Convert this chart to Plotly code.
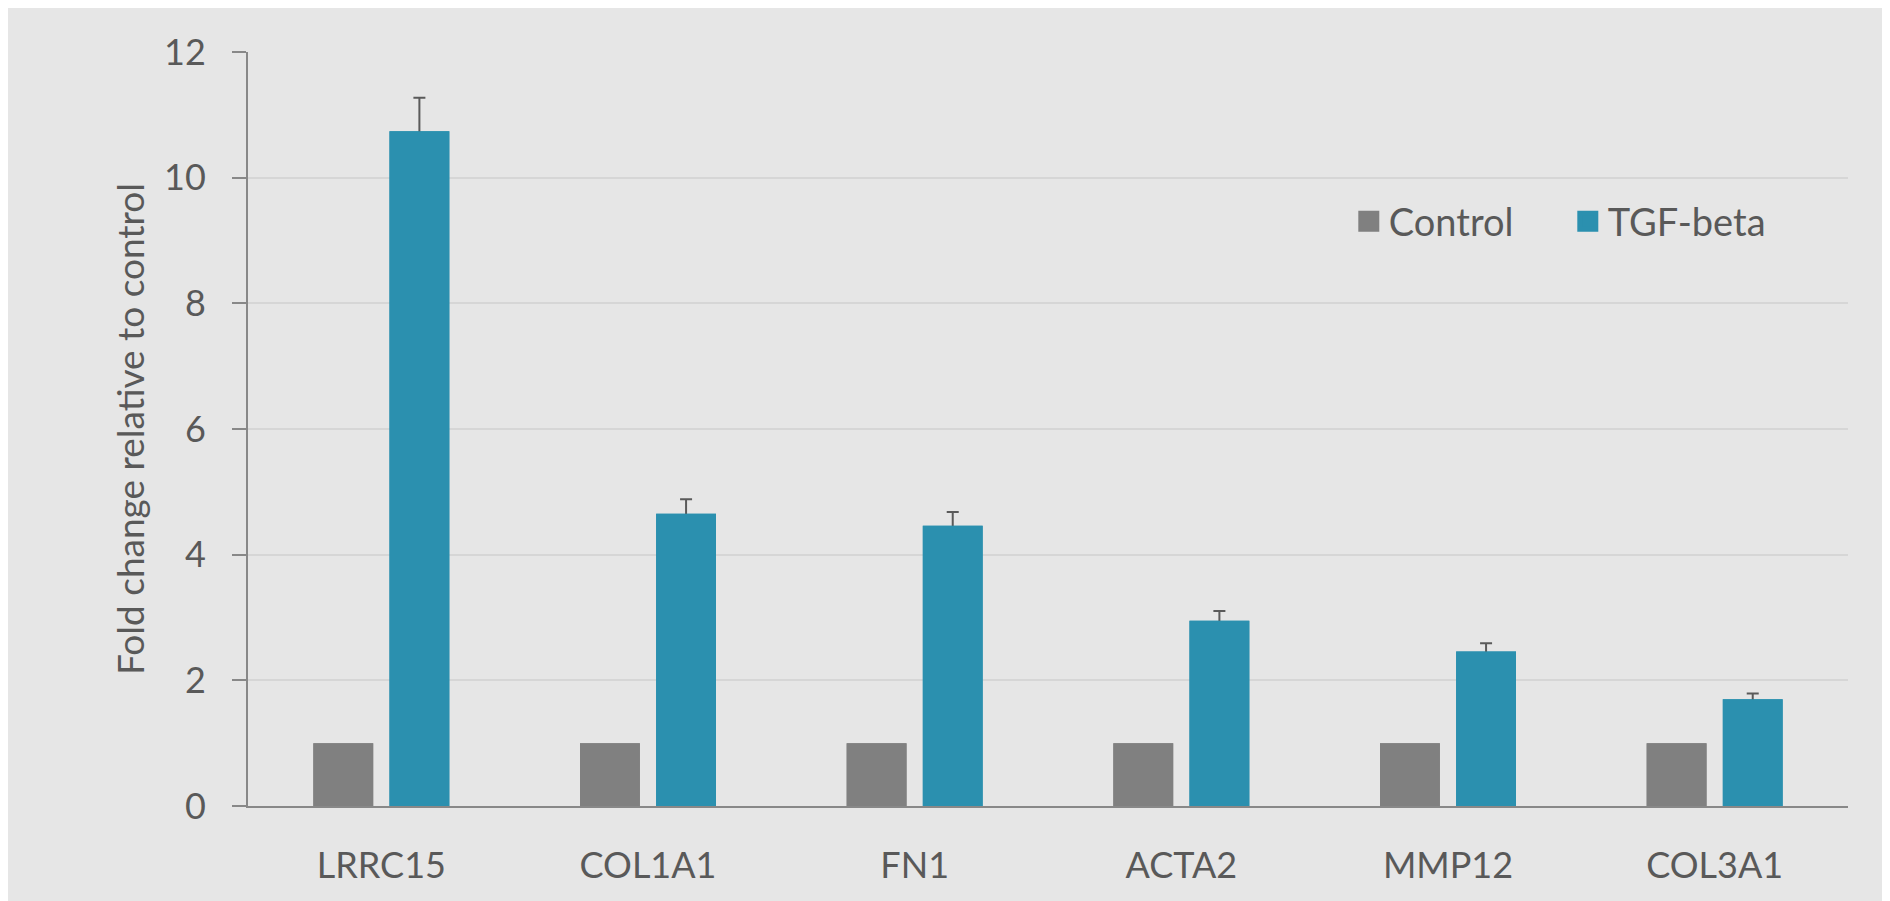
import plotly.graph_objects as go

genes = ["LRRC15", "COL1A1", "FN1", "ACTA2", "MMP12", "COL3A1"]
control = [1.0, 1.0, 1.0, 1.0, 1.0, 1.0]
tgf_beta = [10.74, 4.65, 4.46, 2.95, 2.46, 1.70]
tgf_err = [0.53, 0.23, 0.22, 0.155, 0.13, 0.09]
y_ticks = [0, 2, 4, 6, 8, 10, 12]

TEXT = "#595959"
BG = "#E6E6E6"
CTRL_COLOR = "#808080"
TGF_COLOR = "#2B90AF"
FONT = "Lato, 'Open Sans', sans-serif"

fig = go.Figure()
# base layer: bars with error bars (lower half gets hidden by the overlay bars)
fig.add_trace(go.Bar(
    name="Control", x=genes, y=control, showlegend=False, yaxis="y",
    marker=dict(color=CTRL_COLOR, line=dict(width=0)),
))
fig.add_trace(go.Bar(
    name="TGF-beta", x=genes, y=tgf_beta, showlegend=False, yaxis="y",
    marker=dict(color=TGF_COLOR, line=dict(width=0)),
    error_y=dict(type="data", array=tgf_err, symmetric=True, visible=True,
                 color="#5A5A5A", thickness=2, width=6),
))
# overlay layer: same bars drawn on top so only the plus-side error bar shows
fig.add_trace(go.Bar(
    name="Control", x=genes, y=control, showlegend=False, yaxis="y2",
    marker=dict(color=CTRL_COLOR, line=dict(width=0)), hoverinfo="skip",
))
fig.add_trace(go.Bar(
    name="TGF-beta", x=genes, y=tgf_beta, showlegend=False, yaxis="y2",
    marker=dict(color=TGF_COLOR, line=dict(width=0)), hoverinfo="skip",
))
# legend entries (larger square swatches)
for name, col in [("Control", CTRL_COLOR), ("TGF-beta", TGF_COLOR)]:
    fig.add_trace(go.Scatter(
        name=name, x=[None], y=[None], mode="markers",
        marker=dict(symbol="square", size=16, color=col, line=dict(color=col, width=5)),
        hoverinfo="skip",
    ))

fig.update_layout(
    width=1882, height=893,
    margin=dict(l=240, r=42, t=44, b=95, pad=0),
    paper_bgcolor=BG,
    plot_bgcolor=BG,
    barmode="group",
    bargap=0.429,
    bargroupgap=0.214,
    font=dict(family=FONT, color=TEXT, size=36),
    showlegend=True,
    legend=dict(
        orientation="h", x=0.688, xanchor="left", y=0.775, yanchor="middle",
        bgcolor="rgba(0,0,0,0)", font=dict(size=38, color=TEXT),
        itemsizing="trace", traceorder="normal", entrywidth=174,
    ),
    yaxis2=dict(range=[0, 12], overlaying="y", visible=False, showgrid=False,
                zeroline=False, fixedrange=True),
)

fig.update_xaxes(
    showgrid=False, showline=True, linecolor="#888888", linewidth=2,
    ticks="", tickfont=dict(size=36, color=TEXT), ticklabelstandoff=27,
    zeroline=False,
)
fig.update_layout(yaxis=dict(
    range=[0, 12], tickvals=y_ticks, showgrid=True, gridcolor="#D6D6D6", gridwidth=2,
    showline=True, linecolor="#888888", linewidth=2,
    ticks="outside", ticklen=14, tickwidth=2, tickcolor="#888888",
    tickfont=dict(size=36, color=TEXT), ticklabelstandoff=19,
    zeroline=False,
    title=dict(text="Fold change relative to control", font=dict(size=37, color=TEXT), standoff=8),
))

fig.write_html("out.html")
